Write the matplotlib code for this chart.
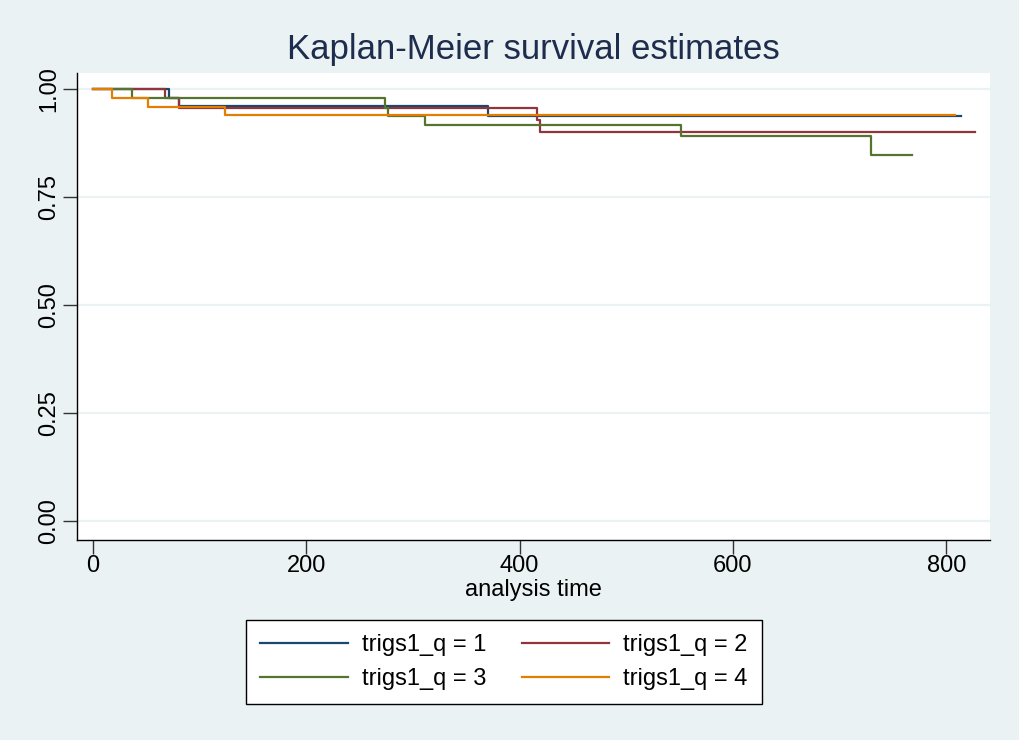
import numpy as np
import matplotlib.pyplot as plt

plt.rcParams['font.family'] = ['Liberation Sans', 'DejaVu Sans']

# Kaplan-Meier step data
t_q1 = [0, 71.6, 81, 370, 814]
s_q1 = [1.0, 0.978, 0.961, 0.9375, 0.9375]

t_q2 = [0, 67.5, 80.6, 416.6, 419, 827]
s_q2 = [1.0, 0.978, 0.957, 0.928, 0.901, 0.901]

t_q3 = [0, 37, 274, 277, 311, 551, 729, 768]
s_q3 = [1.0, 0.978, 0.957, 0.9375, 0.916, 0.892, 0.846, 0.846]

t_q4 = [0, 18, 52, 124, 808]
s_q4 = [1.0, 0.98, 0.959, 0.939, 0.939]

labels = ['trigs1_q = 1', 'trigs1_q = 2', 'trigs1_q = 3', 'trigs1_q = 4']
colors = ['#1a476f', '#90353b', '#55752f', '#e37e00']

x_ticks = [0, 200, 400, 600, 800]
y_ticks = [0.0, 0.25, 0.5, 0.75, 1.0]

bg = '#eaf2f3'
narrow = ['Liberation Sans Narrow', 'Liberation Sans']

fig = plt.figure(figsize=(10.19, 7.4), dpi=100, facecolor=bg)
ax = fig.add_axes([0.0756, 0.2703, 0.8959, 0.6311])
ax.set_facecolor('white')

for y in y_ticks:
    ax.axhline(y, color=bg, lw=1.6, zorder=0)

series = [(t_q1, s_q1), (t_q2, s_q2), (t_q3, s_q3), (t_q4, s_q4)]
handles = []
for (t, s), c, lab in zip(series, colors, labels):
    h, = ax.step(t, s, where='post', color=c, lw=1.6, label=lab)
    handles.append(h)

ax.set_xlim(-15, 841)
ax.set_ylim(-0.044, 1.037)

ax.set_xticks(x_ticks)
ax.set_xticklabels([str(v) for v in x_ticks], family=narrow, fontsize=17)
ax.set_yticks(y_ticks)
ax.set_yticklabels(['%.2f' % v for v in y_ticks], rotation=90, va='center', fontsize=17)
ax.tick_params(axis='both', direction='out', length=10, width=1, color='#333333')
ax.tick_params(axis='y', pad=2)
ax.tick_params(axis='x', pad=1)

for sp in ['top', 'right']:
    ax.spines[sp].set_visible(False)
for sp in ['left', 'bottom']:
    ax.spines[sp].set_color('black')
    ax.spines[sp].set_linewidth(1)

ax.set_xlabel('analysis time', fontsize=17, labelpad=1, family=narrow)
ax.set_title('Kaplan-Meier survival estimates', fontsize=25, color='#1e2d4e', pad=10)

# row-wise legend order like the reference (1 2 / 3 4)
order = [0, 2, 1, 3]
leg = fig.legend(handles=[handles[i] for i in order], loc='center', ncol=2, fontsize=17,
                 bbox_to_anchor=(0.4946, 0.1054), frameon=True, fancybox=False,
                 edgecolor='black', facecolor='white', framealpha=1,
                 handlelength=3.7, handletextpad=0.6, columnspacing=1.5,
                 borderpad=0.6, labelspacing=0.5)
leg.get_frame().set_linewidth(1)

fig.savefig('out.png', dpi=100, facecolor=bg)
